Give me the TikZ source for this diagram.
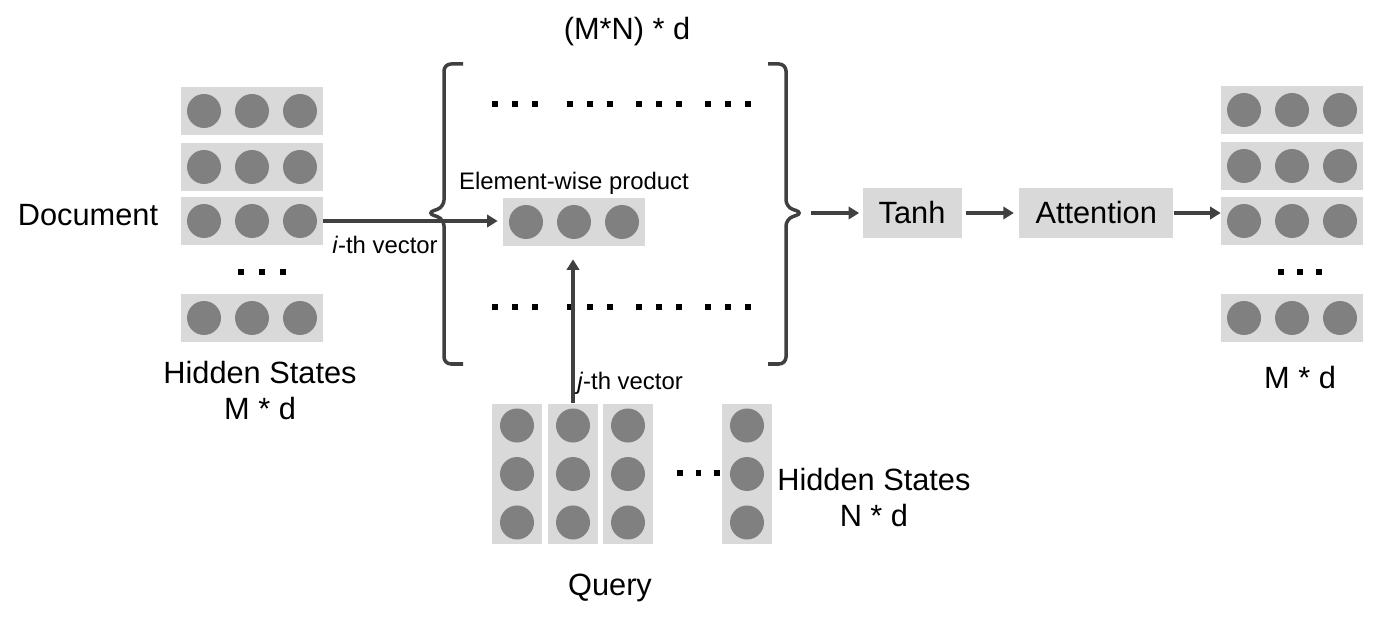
\documentclass[tikz,border=0pt]{standalone}
\usepackage{fontspec}
\setmainfont{Liberation Sans}
\usepackage{xcolor}
\usetikzlibrary{arrows.meta, positioning, calc}
\definecolor{boxgray}{HTML}{D9D9D9}
\definecolor{unitgray}{HTML}{808080}
\definecolor{linegray}{HTML}{404040}
% a row vector and a column vector with three units
\newcommand{\rowvec}[2]{%
  \node[vecbox] (#1) at (#2) {};
  \foreach \k in {-1,0,1}
    \fill[unitgray] ([xshift=\k*0.96cm]#1.center) circle (0.34cm);
}
\newcommand{\colvec}[2]{%
  \node[colbox] (#1) at (#2) {};
  \foreach \k in {-1,0,1}
    \fill[unitgray] ([yshift=\k*0.97cm]#1.center) circle (0.34cm);
}
% three square dots: x, y, gap
\newcommand{\pips}[3]{%
  \foreach \k in {0,1,2}
    \fill ({#1+\k*#3-2.6},{#2-2.6}) rectangle ++(5.2,5.2);
}

\begin{document}
\begin{tikzpicture}[x=0.02cm,y=-0.02cm,
  vecbox/.style={fill=boxgray, minimum width=2.84cm, minimum height=0.96cm, inner sep=0pt},
  colbox/.style={fill=boxgray, minimum width=1cm, minimum height=2.82cm, inner sep=0pt},
  opbox/.style={fill=boxgray, minimum height=1cm, inner sep=0pt, font=\fontsize{17.5}{21}\selectfont},
  link/.style={draw=linegray, line width=1.9pt, -{Triangle[length=6pt,width=7pt]}},
  brace/.style={draw=linegray, line width=2pt, rounded corners=4},
  big/.style={font=\fontsize{17.5}{20.5}\selectfont, inner sep=0pt},
  small/.style={font=\fontsize{13.6}{16}\selectfont, inner sep=0pt}]
\useasboundingbox (0,0) rectangle (1381,617);
% Document hidden states
\rowvec{d1}{252,111}
\rowvec{d2}{252,167}
\rowvec{d3}{252,221}
\rowvec{d4}{252,318}
\pips{241}{272}{21}
\node[big] (doc) at (88,215) {Document};
\node[big, align=center] (dstates) at (260,391) {Hidden States\\M * d};
% Matrix of products
\draw[brace] (463,64) -- (444,64) -- (444,207) -- (427,213) -- (444,219) -- (444,364) -- (463,364);
\draw[brace] (768,64) -- (786,64) -- (786,207) -- (803,213) -- (786,219) -- (786,364) -- (768,364);
\coordinate (rtip) at (803,213);
\node[big] (size) at (627,32) {(M*N) * d};
\foreach \g in {495,570,639,708} {
  \pips{\g}{104}{20}
  \pips{\g}{307}{20}
}
\rowvec{prod}{574,222}
\node[small, above=0.05cm of prod] (prodlbl) {Element-wise product};
% Query hidden states
\colvec{q1}{517,474}
\colvec{q2}{573,474}
\colvec{q3}{628,474}
\colvec{q4}{747,474}
\pips{680}{473}{18.5}
\node[big, align=center, anchor=west] (qstates) at (777,498) {Hidden States\\N * d};
\node[big] (query) at (610,588) {Query};
% Tanh and attention
\node[opbox, minimum width=1.98cm] (tanh) at (912,213) {Tanh};
\node[opbox, minimum width=3.08cm, right=1.14cm of tanh] (att) {Attention};
% Output hidden states
\rowvec{r1}{1292,110}
\rowvec{r2}{1292,166}
\rowvec{r3}{1292,221}
\rowvec{r4}{1292,318}
\pips{1281}{272}{19}
\node[big] (rsize) at (1300,378) {M * d};
% Arrows
\draw[link, shorten >=0.1cm] (d3.east) -- (d3.east -| prod.west);
\node[small] (ilbl) at (385,245) {\textit{i}-th vector};
\draw[link, shorten >=0.26cm] (q2.north) -- (q2.north |- prod.south);
\node[small, anchor=west] (jlbl) at (577,383) {\textit{j}-th vector};
\draw[link, shorten <=0.16cm, shorten >=0.06cm] (rtip) -- (tanh.west);
\draw[link, shorten <=0.08cm, shorten >=0.1cm] (tanh) -- (att);
\draw[link] (att.east) -- (att.east -| r3.west);
\end{tikzpicture}
\end{document}
